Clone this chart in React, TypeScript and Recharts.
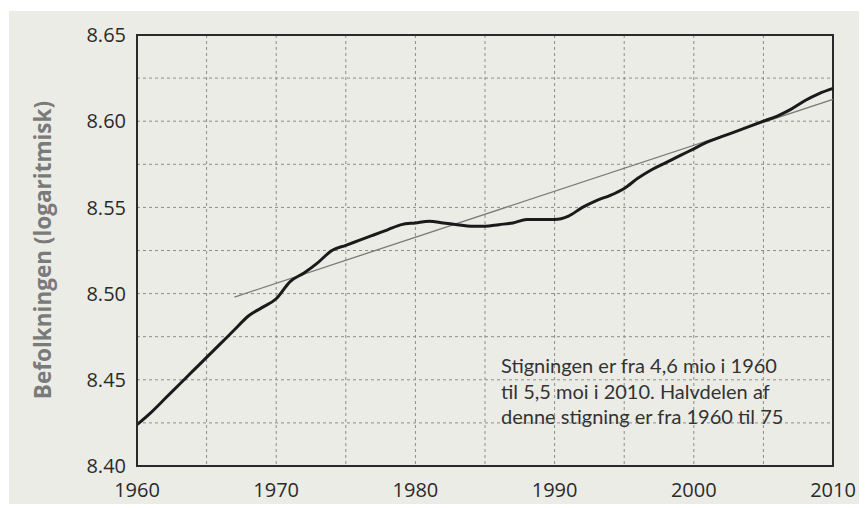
import * as React from 'react';
import { CartesianGrid, Label, Line, LineChart, ReferenceArea, XAxis, YAxis } from 'recharts';

// år og logaritmen af befolkningen
const years = [
  1960, 1961, 1962, 1963, 1964, 1965, 1966, 1967, 1968, 1969,
  1970, 1971, 1972, 1973, 1974, 1975, 1976, 1977, 1978, 1979,
  1980, 1981, 1982, 1983, 1984, 1985, 1986, 1987, 1988, 1989,
  1990, 1991, 1992, 1993, 1994, 1995, 1996, 1997, 1998, 1999,
  2000, 2001, 2002, 2003, 2004, 2005, 2006, 2007, 2008, 2009, 2010,
];
const logPop = [
  8.424, 8.431, 8.439, 8.447, 8.455, 8.463, 8.471, 8.479, 8.487, 8.492,
  8.497, 8.507, 8.512, 8.518, 8.525, 8.528, 8.531, 8.534, 8.537, 8.540,
  8.541, 8.542, 8.541, 8.540, 8.539, 8.539, 8.540, 8.541, 8.543, 8.543,
  8.543, 8.545, 8.550, 8.554, 8.557, 8.561, 8.567, 8.572, 8.576, 8.580,
  8.584, 8.588, 8.591, 8.594, 8.597, 8.600, 8.603, 8.607, 8.612, 8.616, 8.619,
];
// trendlinje (kun endepunkter)
const trendYears = [1967, 2010];
const trendValues = [8.498, 8.6127];

const xTicks = [1960, 1970, 1980, 1990, 2000, 2010];
const yTicks = [8.4, 8.45, 8.5, 8.55, 8.6, 8.65];
const xGrid = [1960, 1965, 1970, 1975, 1980, 1985, 1990, 1995, 2000, 2005, 2010];
const yGrid = [8.4, 8.425, 8.45, 8.475, 8.5, 8.525, 8.55, 8.575, 8.6, 8.625, 8.65];

const note = [
  'Stigningen er fra 4,6 mio i 1960',
  'til 5,5 moi i 2010. Halvdelen af',
  'denne stigning er fra 1960 til 75',
];

const bg = '#ecece7';
const tickFont = '"Open Sans", Lato, sans-serif';
const noteFont = 'Lato, "Open Sans", sans-serif';

export default function App() {
  const data = years.map((y, i) => {
    const t = trendYears.indexOf(y);
    return { year: y, logPop: logPop[i], trend: t >= 0 ? trendValues[t] : null };
  });

  return (
    <div style={{ position: 'relative', left: 1, top: 3, width: 858, height: 496, background: bg }}>
      <LineChart width={858} height={496} data={data}
        margin={{ top: 24, right: 34, left: 0, bottom: 0 }}>
        <CartesianGrid stroke="#8c8c8c" strokeDasharray="3 3" strokeWidth={1}
          horizontalValues={yGrid} verticalValues={xGrid} />
        <XAxis dataKey="year" type="number" domain={[1960, 2010]} ticks={xTicks}
          height={41} tickLine={false} tickSize={0} tickMargin={17}
          axisLine={{ stroke: '#2a2a2a', strokeWidth: 2 }}
          tick={{ fill: '#2a2a2a', fontSize: 20, fontFamily: tickFont }} />
        <YAxis type="number" domain={[8.4, 8.65]} ticks={yTicks} width={128}
          allowDataOverflow tickLine={false} tickSize={0} tickMargin={11}
          axisLine={{ stroke: '#2a2a2a', strokeWidth: 2 }}
          tickFormatter={(v: number) => v.toFixed(2)}
          tick={{ fill: '#2a2a2a', fontSize: 20, fontFamily: tickFont }}>
          <Label content={() => (
            <text x={33} y={239} transform="rotate(-90, 33, 239)" textAnchor="middle"
              dominantBaseline="central" fill="#7a7a7a" fontSize={22.5} fontWeight="bold"
              fontFamily={tickFont}>Befolkningen (logaritmisk)</text>
          )} />
        </YAxis>
        <ReferenceArea x1={1960} x2={2010} y1={8.4} y2={8.65} fill="none"
          stroke="#2a2a2a" strokeWidth={2} ifOverflow="visible" />
        <Line dataKey="trend" type="linear" stroke="#7a7a7a" strokeWidth={1.3}
          dot={false} connectNulls isAnimationActive={false} />
        <Line dataKey="logPop" type="monotone" stroke="#1a1a1a" strokeWidth={3}
          dot={false} isAnimationActive={false} />
      </LineChart>
      <div style={{ position: 'absolute', left: 492, top: 342, fontFamily: noteFont, fontSize: 20, lineHeight: '25.5px', color: '#333', whiteSpace: 'nowrap' }}>
        {note.map((s) => <div key={s}>{s}</div>)}
      </div>
    </div>
  );
}
